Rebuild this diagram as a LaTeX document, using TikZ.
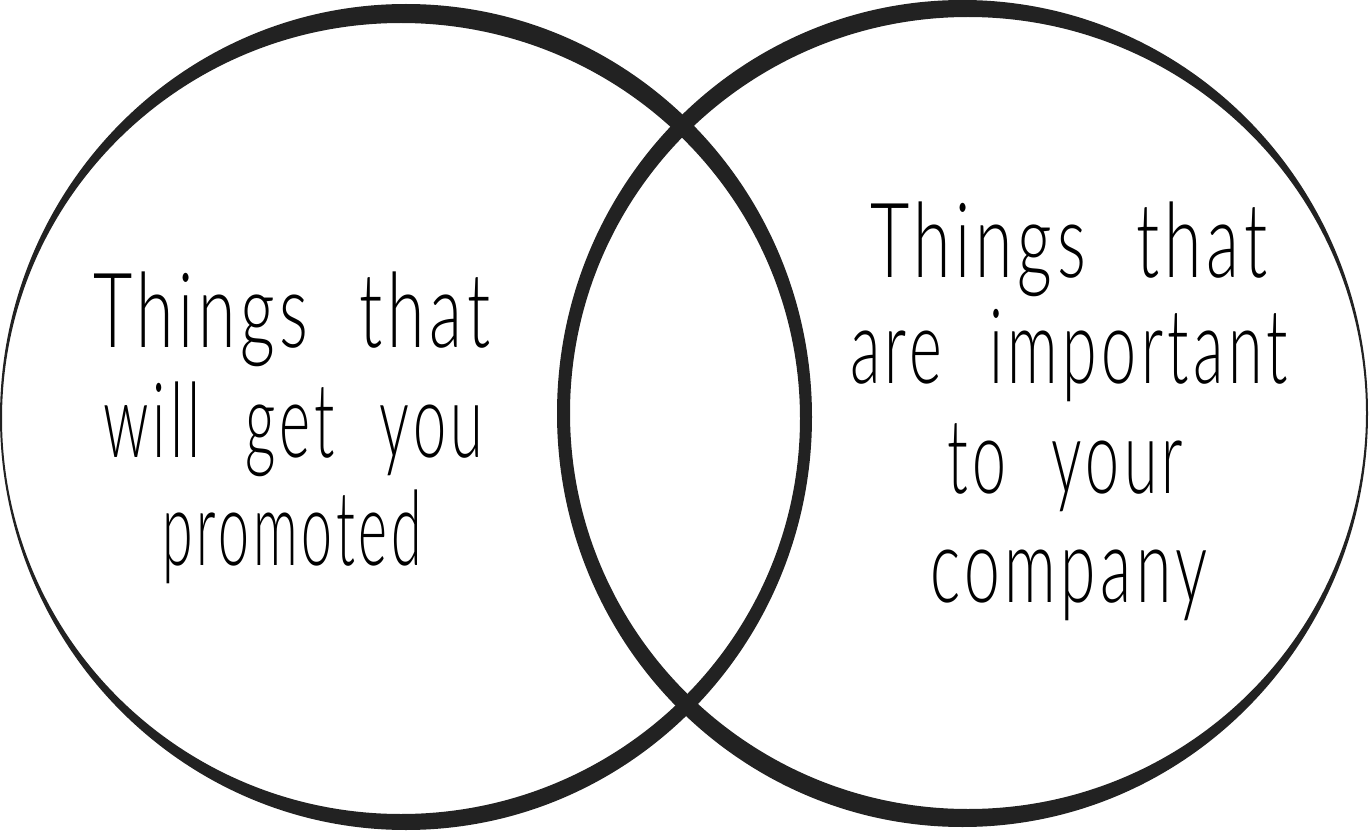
\documentclass[tikz,border=0pt]{standalone}
\usepackage{fontspec}
\usepackage{graphicx}
\setmainfont{Lato Light}[LetterSpace=7, WordSpace=2.2]
\definecolor{ink}{HTML}{222222}
\begin{document}
\begin{tikzpicture}[x=1pt,y=-1pt,
  txt/.style={inner sep=0pt, anchor=base west, text=black, font=\fontsize{104}{120}\selectfont}]
\useasboundingbox (0,0) rectangle (1369,832);
\fill[white] (0,0) rectangle (1369,832);
% left circle (crescent stroke)
\fill[ink, even odd rule] (406,417) ellipse [x radius=406, y radius=413]
                          (401,418.5) ellipse [x radius=399, y radius=395.5];
% right circle (crescent stroke)
\fill[ink, even odd rule] (962.5,413.5) ellipse [x radius=405.5, y radius=413.5]
                          (968,413) ellipse [x radius=398, y radius=396];
% left text
\node[txt] (l1) at (93,347) {\resizebox{397pt}{\height}{Things that}};
\node[txt] (l2) at (103,457) {\resizebox{380pt}{\height}{will get you}};
\node[txt] (l3) at (162,565) {\resizebox{260pt}{\height}{promoted}};
% right text
\node[txt] (r1) at (870,277) {\resizebox{397pt}{\height}{Things that}};
\node[txt] (r2) at (850,383) {\resizebox{438pt}{\height}{are important}};
\node[txt] (r3) at (947,493) {\resizebox{236pt}{\height}{to your}};
\node[txt] (r4) at (930,602) {\resizebox{277pt}{\height}{company}};
\end{tikzpicture}
\end{document}
